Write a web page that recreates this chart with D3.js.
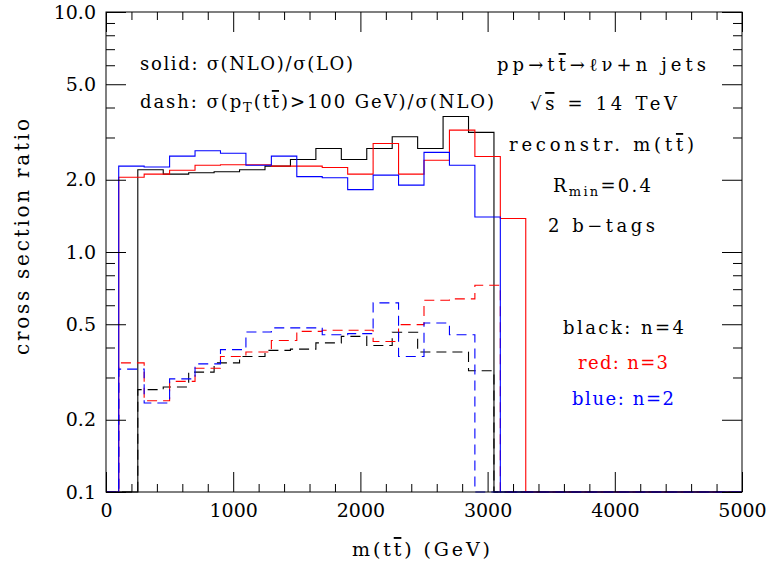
<!DOCTYPE html>
<html><head><meta charset="utf-8">
<script src="https://cdn.jsdelivr.net/npm/d3@7"></script>
<style>
html,body{margin:0;padding:0;background:#fff;}
text{font-family:"DejaVu Serif",serif;fill:#000;}
</style></head>
<body><svg id="c" width="774" height="562"></svg>
<script>
// ---------------- data ----------------
const blackEdges = [250,450,650,850,1050,1250,1450,1650,1850,2050,2250,2450,2650,2850,3050];
const redEdges   = [100,300,500,700,900,1100,1300,1500,1700,1900,2100,2300,2500,2700,2900,3100,3300];
const blueEdges  = [100,300,500,700,900,1100,1300,1500,1700,1900,2100,2300,2500,2700,2900,3100];

const blackSolid = [2.20,2.11,2.14,2.16,2.20,2.28,2.43,2.70,2.43,2.70,3.02,2.70,3.67,3.15];
const blackDash  = [0.267,0.274,0.316,0.345,0.367,0.389,0.394,0.418,0.445,0.408,0.463,0.383,0.383,0.320];
const redSolid   = [2.05,2.11,2.19,2.30,2.31,2.31,2.28,2.28,2.25,2.11,2.83,2.11,2.41,3.22,2.50,1.38];
const redDash    = [0.345,0.240,0.289,0.328,0.367,0.383,0.428,0.467,0.472,0.472,0.424,0.498,0.629,0.638,0.727,0];
const blueSolid  = [2.28,2.26,2.51,2.64,2.58,2.30,2.51,2.06,2.04,1.82,2.09,1.90,2.60,2.30,1.40];
const blueDash   = [0.325,0.235,0.296,0.342,0.392,0.464,0.483,0.483,0.452,0.457,0.614,0.367,0.506,0.452,0];

const xMajorTicks = [0,1000,2000,3000,4000,5000];
const xMinorTicks = [200,400,600,800,1200,1400,1600,1800,2200,2400,2600,2800,3200,3400,3600,3800,4200,4400,4600,4800];
const yMajorTicks = [0.1,0.2,0.5,1,2,5,10];
const yTickLabels = ["0.1","0.2","0.5","1.0","2.0","5.0","10.0"];
const yMinorTicks = [0.3,0.4,0.6,0.7,0.8,0.9,3,4,6,7,8,9];

// ---------------- layout ----------------
const L=106, R=742, T=12, B=492;
const x = d3.scaleLinear().domain([0,5000]).range([L,R]);
const y = d3.scaleLog().domain([0.1,10]).range([B,T]);
const svg = d3.select("#c");

// histograms
const clip = svg.append("defs").append("clipPath").attr("id","pc");
clip.append("rect").attr("x",L).attr("y",T-1).attr("width",R-L).attr("height",B-T+2);
const line = d3.line().x(d=>x(d[0])).y(d=>y(Math.max(d[1],0.1)));
function histPts(edges, vals){
  const p=[[0,0.1],[edges[0],0.1]];
  vals.forEach((v,i)=>{p.push([edges[i],v]);p.push([edges[i+1],v]);});
  p.push([edges[edges.length-1],0.1]);
  p.push([5000,0.1]);
  return p;
}
const g = svg.append("g").attr("clip-path","url(#pc)");
const series = [
  {e:blackEdges,v:blackSolid,c:"#000",d:null},
  {e:blackEdges,v:blackDash,c:"#000",d:"10,6"},
  {e:redEdges,v:redSolid,c:"#ff0000",d:null},
  {e:redEdges,v:redDash,c:"#ff0000",d:"10,6"},
  {e:blueEdges,v:blueSolid,c:"#0000ff",d:null},
  {e:blueEdges,v:blueDash,c:"#0000ff",d:"10,6"},
];
series.forEach(s=>{
  g.append("path").attr("d",line(histPts(s.e,s.v)))
   .attr("fill","none").attr("stroke",s.c).attr("stroke-width",1.1)
   .attr("stroke-dasharray",s.d);
});

// axes
function styleAxis(sel){
  sel.select(".domain").remove();
  sel.selectAll(".tick line").attr("stroke","#000").attr("stroke-width",1);
}
const fmtY = d => yTickLabels[yMajorTicks.indexOf(d)];
svg.append("g").attr("transform",`translate(${L},0)`)
  .call(d3.axisLeft(y).tickValues(yMajorTicks).tickFormat(fmtY).tickSize(-20).tickPadding(10))
  .call(styleAxis)
  .selectAll("text").style("font-size","19px").style("font-family","DejaVu Serif");
svg.append("g").attr("transform",`translate(${L},0)`)
  .call(d3.axisLeft(y).tickValues(yMinorTicks).tickFormat("").tickSize(-9)).call(styleAxis);
svg.append("g").attr("transform",`translate(${R},0)`)
  .call(d3.axisRight(y).tickValues(yMajorTicks).tickFormat("").tickSize(-20)).call(styleAxis);
svg.append("g").attr("transform",`translate(${R},0)`)
  .call(d3.axisRight(y).tickValues(yMinorTicks).tickFormat("").tickSize(-9)).call(styleAxis);
svg.append("g").attr("transform",`translate(0,${B})`)
  .call(d3.axisBottom(x).tickValues(xMajorTicks).tickFormat(d3.format("d")).tickSize(-20).tickPadding(12))
  .call(styleAxis)
  .selectAll("text").style("font-size","19px").style("font-family","DejaVu Serif");
svg.append("g").attr("transform",`translate(0,${B})`)
  .call(d3.axisBottom(x).tickValues(xMinorTicks).tickFormat("").tickSize(-8)).call(styleAxis);
svg.append("g").attr("transform",`translate(0,${T})`)
  .call(d3.axisTop(x).tickValues(xMajorTicks).tickFormat("").tickSize(-20)).call(styleAxis);
svg.append("g").attr("transform",`translate(0,${T})`)
  .call(d3.axisTop(x).tickValues(xMinorTicks).tickFormat("").tickSize(-8)).call(styleAxis);

svg.append("rect").attr("x",L).attr("y",T).attr("width",R-L).attr("height",B-T)
  .attr("fill","none").attr("stroke","#000").attr("stroke-width",1);

// texts
function txt(xp,yp,len,size,color){
  return svg.append("text").attr("x",xp).attr("y",yp).attr("text-anchor","start")
    .attr("textLength",len).attr("lengthAdjust","spacing")
    .style("font-size",size+"px").style("fill",color||"#000");
}
const OL = "text-decoration:overline";
let t;
t = txt(140,70,213,18); t.text("solid: σ(NLO)/σ(LO)");
t = txt(140,108,354,18);
t.append("tspan").text("dash: σ(p");
t.append("tspan").attr("dy",4).style("font-size","13px").text("T");
t.append("tspan").attr("dy",-4).text("(t");
t.append("tspan").attr("style",OL).text("t");
t.append("tspan").text(")>100 GeV)/σ(NLO)");

t = txt(497,71,209,18);
t.append("tspan").text("pp→t");
t.append("tspan").attr("style",OL).text("t");
t.append("tspan").text("→ℓν+n jets");
t = txt(530,110,147,18);
t.append("tspan").text("√");
t.append("tspan").attr("style",OL).text("s");
t.append("tspan").text(" = 14 TeV");
t = txt(509,151,185,18);
t.append("tspan").text("reconstr. m(t");
t.append("tspan").attr("style",OL).text("t");
t.append("tspan").text(")");
t = txt(553,192,98,18);
t.append("tspan").text("R");
t.append("tspan").attr("dy",4).style("font-size","13px").text("min");
t.append("tspan").attr("dy",-4).text("=0.4");
t = txt(548,232,107,18); t.text("2 b−tags");

txt(563,334,121,18).text("black: n=4");
txt(578,369,90,18,"#ff0000").text("red: n=3");
txt(572,405,102,18,"#0000ff").text("blue: n=2");

t = txt(352,556,138,19);
t.append("tspan").text("m(t");
t.append("tspan").attr("style",OL).text("t");
t.append("tspan").text(") (GeV)");
svg.append("text").attr("transform","translate(29,237) rotate(-90)")
  .attr("text-anchor","middle").attr("textLength",236).attr("lengthAdjust","spacing")
  .style("font-size","20px").text("cross section ratio");
</script></body></html>
